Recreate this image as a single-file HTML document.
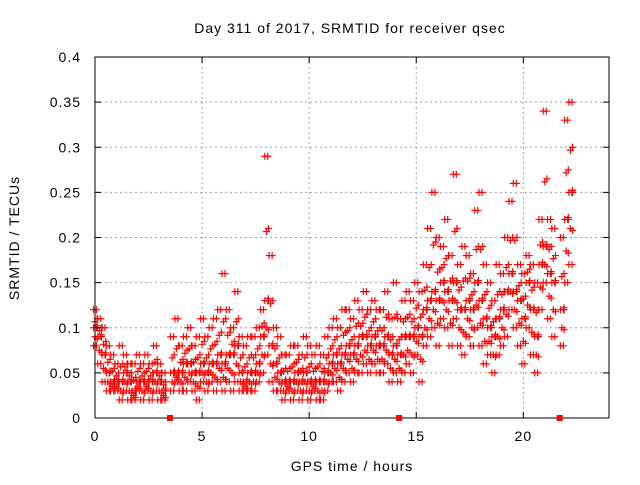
<!DOCTYPE html>
<html><head><meta charset="utf-8"><style>
body{margin:0;background:#fff}
svg text{font-family:"Liberation Sans",sans-serif;font-size:14px;letter-spacing:1px;fill:#000}
</style></head><body>
<svg id="c" width="640" height="480">
<rect width="640" height="480" fill="#fff"/>
<text x="350" y="33" text-anchor="middle">Day 311 of 2017, SRMTID for receiver qsec</text>
<text transform="translate(19,238) rotate(-90)" text-anchor="middle">SRMTID / TECUs</text>
<text x="352" y="471" text-anchor="middle">GPS time / hours</text>
<g id="grid"></g><g id="marks"></g><g id="axes"></g>
</svg>
<script>
const lo=[8,6,4,3,3,3,2,3,2,2,3,2,3,2,3,2,2,null,3,4,3,3,4,3,2,4,3,4,3,4,3,4,3,4,3,3,3,3,4,5,7,4,3,3,2,3,2,3,2,3,2,3,2,2,3,4,4,3,4,5,4,5,5,6,5,6,5,5,6,4,5,4,5,6,5,7,4,8,9,10,8,11,10,8,11,8,7,9,8,10,8,6,7,5,7,8,9,12,10,8,6,10,7,5,12,15,11,9,null,8,15,17];
const mid=[10,9,7,5,4,4,4,5,4,3,4,4,4,4,5,4,3,null,5,5,5,6,6,5,5,6,5,6,6,7,6,7,7,8,5,4,5,5,6,9,13,8,6,5,4,4,4,5,4,5,4,4,4,4,5,6,7,6,7,8,7,8,9,9,8,9,8,8,9,7,8,7,9,9,9,10,9,12,13,14,13,15,14,13,15,12,12,13,12,15,13,11,10,9,11,12,14,16,14,13,11,15,12,9,17,19,16,15,null,12,22,25];
const hi=[12,11,10,8,7,6,8,7,6,6,7,6,7,6,8,6,5,null,9,11,8,9,10,8,9,11,9,10,11,12,16,12,10,14,9,8,9,9,10,12,29,18,10,9,7,7,8,8,7,9,8,7,8,7,9,10,11,10,12,12,11,13,12,14,12,13,12,12,14,11,15,11,13,14,13,15,14,17,21,25,20,19,22,18,27,17,19,18,16,23,25,17,15,13,17,16,20,24,26,17,16,18,17,15,22,34,22,21,null,20,33,35];
const gapTimes=[3.5,14.2,21.7];
const xTicks=[0,5,10,15,20];
const yTicks=[0,0.05,0.1,0.15,0.2,0.25,0.3,0.35,0.4];
const yLabels=["0","0.05","0.1","0.15","0.2","0.25","0.3","0.35","0.4"];
const L=95,R=609,T=57,B=418;
const X=t=>L+(t/24)*(R-L), Y=v=>B-(v/0.4)*(B-T);
const ns="http://www.w3.org/2000/svg";
function mk(tag,p,parent){const e=document.createElementNS(ns,tag);for(const k in p)e.setAttribute(k,p[k]);document.getElementById(parent).appendChild(e);return e;}
xTicks.forEach((t,i)=>{
 if(t>0){const g=mk('line',{x1:X(t),x2:X(t),y1:T,y2:B,stroke:'#a0a0a0','stroke-dasharray':'2,3'},'grid');
 
 }
 const tk=mk('path',{d:`M${X(t)},${B}v-6M${X(t)},${T}v6`,stroke:'#000'},'axes');
 
 
 const lb=mk('text',{x:X(t),y:B+23,'text-anchor':'middle'},'axes');lb.textContent=String(t);
 
 
});
yTicks.forEach((v,i)=>{
 if(v>0&&v<0.4){const g=mk('line',{x1:L,x2:R,y1:Y(v),y2:Y(v),stroke:'#a0a0a0','stroke-dasharray':'2,3'},'grid');
 
 }
 const tk=mk('path',{d:`M${L},${Y(v)}h6M${R},${Y(v)}h-6`,stroke:'#000'},'axes');
 
 
 const lb=mk('text',{x:L-14,y:Y(v)+5,'text-anchor':'end'},'axes');lb.textContent=yLabels[i];
 
 
});
const fr=mk('rect',{x:L,y:T,width:R-L,height:B-T,fill:'none',stroke:'#000'},'axes');


function plus(t,v,col,dx,dy){
 const x=X(t)+dx,y=Y(v/100)+(dy||0);
 const p=mk('path',{d:`M${x-3.5},${y}h7M${x},${y-3.5}v7`,stroke:col,'stroke-width':1.2},'marks');
 
 
}
mid.forEach((v,i)=>{if(v!==null){plus(i*0.2,v,'#000',2);}});
[lo,mid,hi].forEach(arr=>arr.forEach((v,i)=>{if(v!==null){plus(i*0.2,v,'#f00',-1.5);plus(i*0.2,v,'#f00',1.5);}}));
lo.forEach((v,i)=>{if(v!==null&&mid[i]!==null){
 const t=i*0.2+0.1;
 plus(t,(v+mid[i])/2,'#f00',0,2);
 plus(t,mid[i],'#f00',0,-2);
 plus(t,(hi[i]+mid[i])/2,'#f00',0,0);
 plus(i*0.2,(v+mid[i])/2,'#f00',0,0);
 plus(i*0.2,(hi[i]+mid[i])/2,'#f00',0,3);
}});
gapTimes.forEach(t=>{
 const r=mk('rect',{x:X(t)-3,y:B-3,width:6,height:6,fill:'#f00'},'axes');
 
 
});
</script>
</body></html>
